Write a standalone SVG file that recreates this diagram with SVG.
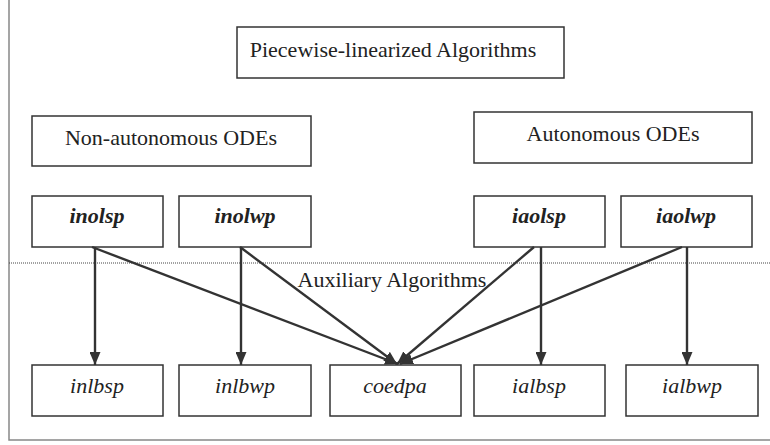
<svg xmlns="http://www.w3.org/2000/svg" width="770" height="445" viewBox="0 0 770 445">
<style>
.box{fill:#fff;stroke:#333;stroke-width:1.5}
.t{font-family:"Liberation Serif",serif;font-size:22px;fill:#222;text-anchor:middle}
.bi{font-weight:bold;font-style:italic}
.i{font-style:italic}
.c{stroke:#333;stroke-width:2.4;fill:none}
</style>
<defs>
<marker id="ah" viewBox="0 0 13 11" refX="13" refY="5.5" markerWidth="13" markerHeight="11" markerUnits="userSpaceOnUse" orient="auto">
<path d="M0,0 L13,5.5 L0,11 Z" fill="#333"/>
</marker>
</defs>
<rect x="0" y="0" width="770" height="445" fill="#fff"/>
<path d="M9,0 V440 H770" fill="none" stroke="#888" stroke-width="1.5"/>
<line x1="9" y1="263" x2="770" y2="263" stroke="#444" stroke-width="1" stroke-dasharray="1,1"/>
<text class="t" x="392" y="287">Auxiliary Algorithms</text>
<g id="title"><rect class="box" x="237" y="27" width="327" height="51"/><text class="t" x="393" y="57">Piecewise-linearized Algorithms</text></g>
<g id="nonauto"><rect class="box" x="32" y="116" width="279" height="50"/><text class="t" x="171" y="145">Non-autonomous ODEs</text></g>
<g id="auto"><rect class="box" x="474" y="112" width="278" height="51"/><text class="t" x="613" y="141">Autonomous ODEs</text></g>
<g id="inolsp"><rect class="box" x="32" y="196" width="131" height="51"/><text class="t bi" x="97" y="223">inolsp</text></g>
<g id="inolwp"><rect class="box" x="179" y="196" width="132" height="51"/><text class="t bi" x="245" y="223">inolwp</text></g>
<g id="iaolsp"><rect class="box" x="474" y="196" width="131" height="51"/><text class="t bi" x="539" y="223">iaolsp</text></g>
<g id="iaolwp"><rect class="box" x="621" y="196" width="131" height="51"/><text class="t bi" x="686" y="223">iaolwp</text></g>
<g id="inlbsp"><rect class="box" x="32" y="365" width="131" height="51"/><text class="t i" x="97" y="393">inlbsp</text></g>
<g id="inlbwp"><rect class="box" x="179" y="365" width="132" height="51"/><text class="t i" x="245" y="393">inlbwp</text></g>
<g id="coedpa"><rect class="box" x="330" y="365" width="131" height="51"/><text class="t i" x="395" y="393">coedpa</text></g>
<g id="ialbsp"><rect class="box" x="474" y="365" width="131" height="51"/><text class="t i" x="539" y="393">ialbsp</text></g>
<g id="ialbwp"><rect class="box" x="626" y="365" width="132" height="51"/><text class="t i" x="692" y="393">ialbwp</text></g>
<g id="connectors">
<line class="c" x1="95" y1="247" x2="95" y2="365" marker-end="url(#ah)"/>
<line class="c" x1="92" y1="247" x2="398" y2="364" marker-end="url(#ah)"/>
<line class="c" x1="241" y1="247" x2="241" y2="365" marker-end="url(#ah)"/>
<line class="c" x1="240" y1="247" x2="397" y2="364" marker-end="url(#ah)"/>
<line class="c" x1="534" y1="247" x2="397" y2="364" marker-end="url(#ah)"/>
<line class="c" x1="541" y1="247" x2="541" y2="365" marker-end="url(#ah)"/>
<line class="c" x1="682" y1="247" x2="400" y2="364" marker-end="url(#ah)"/>
<line class="c" x1="687" y1="247" x2="687" y2="365" marker-end="url(#ah)"/>
</g>
</svg>
